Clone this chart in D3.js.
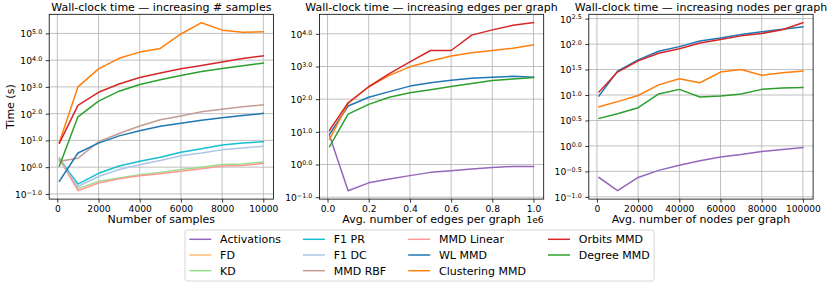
<!DOCTYPE html>
<html><head><meta charset="utf-8">
<script src="https://cdn.jsdelivr.net/npm/d3@7"></script>
<style>body{margin:0;background:#fff} text{font-family:"DejaVu Sans",sans-serif;fill:#000}</style>
</head><body><svg id="c" width="830" height="285"></svg>
<script>
// ---------- DATA ----------
const seriesNames = ["Activations","FD","KD","F1 PR","F1 DC","MMD RBF","MMD Linear","WL MMD","Clustering MMD","Orbits MMD","Degree MMD"];
const seriesColors = ["#9467bd","#ffbb78","#98df8a","#17becf","#aec7e8","#c49c94","#ff9896","#1f77b4","#ff7f0e","#d62728","#2ca02c"];

// Panel 1: increasing # samples
const samples = [100,1000,2000,3000,4000,5000,6000,7000,8000,9000,10000];
const samplesKD        = [2.24,0.158,0.295,0.398,0.525,0.631,0.813,1.0,1.26,1.32,1.55];
const samplesF1PR      = [2.04,0.234,0.589,1.10,1.66,2.34,3.63,4.90,6.76,7.94,8.91];
const samplesF1DC      = [1.86,0.19,0.447,0.813,1.23,1.78,2.69,3.39,4.47,5.25,6.03];
const samplesMMDRBF    = [1.66,2.14,8.9,18.2,34.7,58.9,81.3,117,145,182,214];
const samplesMMDLinear = [2.04,0.132,0.257,0.372,0.479,0.562,0.708,0.871,1.10,1.15,1.38];
const samplesWL        = [0.30,3.39,7.94,14.8,22.9,33.9,43.6,56.2,70.8,85.1,102];
const samplesClust     = [8.5,1000,4700,11700,20000,27500,95000,251000,132000,110000,115000];
const samplesOrbits    = [7.9,204,630,1290,2240,3310,4790,6310,8510,11500,14500];
const samplesDegree    = [1.1,76,295,692,1230,1860,2690,3800,4900,6170,7760];

// Panel 2: increasing edges per graph
const edges = [10000,100000,200000,300000,400000,500000,600000,700000,800000,900000,1000000];
const edgesActivations = [7.59,0.158,0.275,0.363,0.457,0.575,0.646,0.724,0.813,0.871,0.871];
const edgesWL          = [8.51,61.7,115,170,251,316,380,437,468,501,468];
const edgesClust       = [5.89,74.1,240,537,977,1480,2090,2630,3090,3630,4570];
const edgesOrbits      = [11.2,77.6,240,603,1380,3090,3090,9120,13200,18200,21900];
const edgesDegree      = [3.55,34.7,69.2,115,158,195,245,302,372,417,457];

// Panel 3: increasing nodes per graph
const nodes = [1000,10000,20000,30000,40000,50000,60000,70000,80000,90000,100000];
const nodesActivations = [0.24,0.132,0.24,0.331,0.417,0.513,0.603,0.676,0.776,0.851,0.933];
const nodesWL          = [9.55,29.5,49,72.4,89.1,115,132,155,174,195,219];
const nodesClust       = [5.89,7.41,9.77,15.8,20.9,17.4,28.2,31.6,24.5,27.5,29.5];
const nodesOrbits      = [11.5,28.2,46.8,66.1,81.3,105,123,145,162,191,263];
const nodesDegree      = [3.47,4.27,5.62,10.5,12.9,9.12,9.55,10.5,12.9,13.8,14.1];

// Tick labels
const titles = ["Wall-clock time — increasing # samples","Wall-clock time — increasing edges per graph","Wall-clock time — increasing nodes per graph"];
const xLabels = ["Number of samples","Avg. number of edges per graph","Avg. number of nodes per graph"];
const yLabel = "Time (s)";
const xTicks1 = [0,2000,4000,6000,8000,10000];
const xTicks2 = [0,200000,400000,600000,800000,1000000];
const xTicks3 = [0,20000,40000,60000,80000,100000];
const yExp1 = [-1,0,1,2,3,4,5];
const yExp2 = [-1,0,1,2,3,4];
const yExp3 = [-1,-0.5,0,0.5,1,1.5,2,2.5];

// ---------- BUILD ----------
const panels = [
  {x: samples, xTicks: xTicks1, yExp: yExp1, fmt: d => String(d), series: [
    ["KD",samplesKD],["F1 PR",samplesF1PR],["F1 DC",samplesF1DC],["MMD RBF",samplesMMDRBF],
    ["MMD Linear",samplesMMDLinear],["WL MMD",samplesWL],["Clustering MMD",samplesClust],
    ["Orbits MMD",samplesOrbits],["Degree MMD",samplesDegree]]},
  {x: edges, xTicks: xTicks2, yExp: yExp2, fmt: d => (d/1e6).toFixed(1), offset: "1e6", series: [
    ["Activations",edgesActivations],["WL MMD",edgesWL],["Clustering MMD",edgesClust],
    ["Orbits MMD",edgesOrbits],["Degree MMD",edgesDegree]]},
  {x: nodes, xTicks: xTicks3, yExp: yExp3, fmt: d => String(d), series: [
    ["Activations",nodesActivations],["WL MMD",nodesWL],["Clustering MMD",nodesClust],
    ["Orbits MMD",nodesOrbits],["Degree MMD",nodesDegree]]}
];
const colorOf = n => seriesColors[seriesNames.indexOf(n)];

const svg = d3.select("#c");
const lefts = [49.2, 319.4, 588.8], W = 224.3, TOP = 14.3, BOT = 199.1;
const TICKF = 9.17, LABF = 11;
const fmtExp = e => { const s = e.toFixed(1); return s.replace("-", "\u2212"); };

panels.forEach((p, i) => {
  const L = lefts[i];
  const g = svg.append("g");
  const x0 = d3.min(p.x), x1 = d3.max(p.x), xm = (x1 - x0) * 0.05;
  const x = d3.scaleLinear().domain([x0 - xm, x1 + xm]).range([L, L + W]);
  const allv = p.series.flatMap(s => s[1]).map(v => Math.log10(v));
  const lo = d3.min(allv), hi = d3.max(allv), m = (hi - lo) * 0.05;
  const y = d3.scaleLog().domain([Math.pow(10, lo - m), Math.pow(10, hi + m)]).range([BOT, TOP]);

  // grid
  g.selectAll(".gx").data(p.xTicks).join("line")
    .attr("x1", d => x(d)).attr("x2", d => x(d)).attr("y1", TOP).attr("y2", BOT)
    .attr("stroke", "#b0b0b0").attr("stroke-width", 0.8);
  g.selectAll(".gy").data(p.yExp).join("line")
    .attr("y1", d => y(Math.pow(10, d))).attr("y2", d => y(Math.pow(10, d))).attr("x1", L).attr("x2", L + W)
    .attr("stroke", "#b0b0b0").attr("stroke-width", 0.8);

  // lines
  const line = d3.line().x(d => x(d[0])).y(d => y(d[1]));
  p.series.forEach(([name, vals]) => {
    g.append("path").datum(p.x.map((xv, k) => [xv, vals[k]]))
      .attr("d", line).attr("fill", "none").attr("stroke", colorOf(name))
      .attr("stroke-width", 1.5).attr("stroke-linejoin", "round").attr("stroke-linecap", "square");
  });

  // spines
  g.append("rect").attr("x", L).attr("y", TOP).attr("width", W).attr("height", BOT - TOP)
    .attr("fill", "none").attr("stroke", "#000").attr("stroke-width", 0.8);

  // x axis
  const xa = g.append("g").attr("transform", `translate(0,${BOT})`)
    .call(d3.axisBottom(x).tickValues(p.xTicks).tickFormat(p.fmt).tickSize(3.5).tickPadding(3.2).tickSizeOuter(0));
  xa.select(".domain").remove();
  xa.selectAll("line").attr("stroke", "#000").attr("stroke-width", 0.8);
  xa.selectAll("text").attr("font-size", TICKF).attr("font-family", '"DejaVu Sans",sans-serif').attr("fill", "#000");

  // y axis
  const ya = g.append("g").attr("transform", `translate(${L},0)`)
    .call(d3.axisLeft(y).tickValues(p.yExp.map(e => Math.pow(10, e))).tickFormat(() => "").tickSize(3.5).tickPadding(3.5).tickSizeOuter(0));
  ya.select(".domain").remove();
  ya.selectAll("line").attr("stroke", "#000").attr("stroke-width", 0.8);
  ya.selectAll(".tick").each(function(d) {
    const e = Math.log10(d);
    const t = d3.select(this).select("text").text(null)
      .attr("x", -7).attr("dy", null).attr("y", 3.4)
      .attr("font-size", TICKF).attr("text-anchor", "end").attr("font-family", '"DejaVu Sans",sans-serif').attr("fill", "#000");
    t.append("tspan").text("10");
    t.append("tspan").attr("font-size", 6.4).attr("dy", -3.2).text(fmtExp(e));
  });

  // title & labels
  g.append("text").attr("x", L + W / 2).attr("y", 11.2).attr("text-anchor", "middle")
    .attr("font-size", LABF).text(titles[i]);
  g.append("text").attr("x", L + W / 2).attr("y", 223).attr("text-anchor", "middle")
    .attr("font-size", LABF).text(xLabels[i]);
  if (p.offset) g.append("text").attr("x", L + W).attr("y", 223.3).attr("text-anchor", "end")
    .attr("font-size", TICKF).text(p.offset);
});

svg.append("text").attr("transform", `translate(13.5,${(TOP + BOT) / 2}) rotate(-90)`)
  .attr("text-anchor", "middle").attr("font-size", LABF).text(yLabel);

// ---------- LEGEND ----------
const lg = svg.append("g");
const box = lg.append("rect").attr("fill", "#fff").attr("fill-opacity", 0.8)
  .attr("stroke", "#cccccc").attr("stroke-width", 0.8).attr("rx", 2.5);
const rowsPer = 3, rowH = 15.7, colGap = 22, handleLen = 22, textGap = 8.8;
const LX = 185, LY = 230, pad = 4.3, firstRow = 239.3;
let cx = LX + pad;
const nCols = Math.ceil(seriesNames.length / rowsPer);
for (let c = 0; c < nCols; c++) {
  const items = seriesNames.slice(c * rowsPer, c * rowsPer + rowsPer);
  let maxW = 0;
  items.forEach((name, r) => {
    const yy = firstRow + r * rowH;
    lg.append("line").attr("x1", cx).attr("x2", cx + handleLen).attr("y1", yy).attr("y2", yy)
      .attr("stroke", colorOf(name)).attr("stroke-width", 1.5);
    const t = lg.append("text").attr("x", cx + handleLen + textGap).attr("y", yy + 3.9)
      .attr("font-size", LABF).text(name);
    maxW = Math.max(maxW, t.node().getComputedTextLength());
  });
  cx += handleLen + textGap + maxW + (c < nCols - 1 ? colGap : 0);
}
box.attr("x", LX).attr("y", LY).attr("width", cx + pad - LX).attr("height", 51);
</script></body></html>
